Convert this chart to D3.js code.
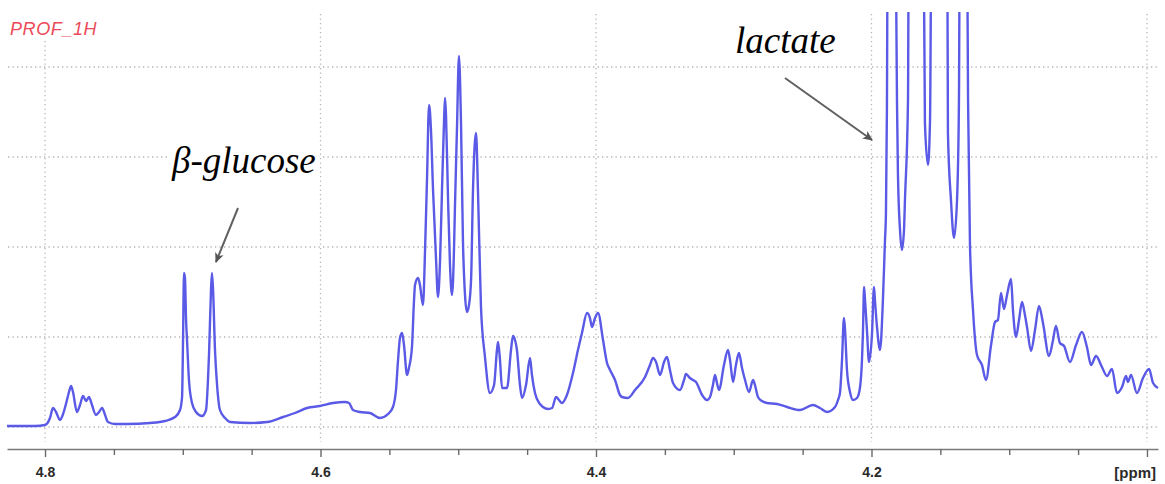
<!DOCTYPE html>
<html>
<head>
<meta charset="utf-8">
<script src="https://cdn.jsdelivr.net/npm/d3@7"></script>
<style>
  html, body { margin: 0; padding: 0; background: #fff; }
  svg { display: block; }
</style>
</head>
<body>
<svg id="chart" width="1165" height="484"></svg>
<script>
// 1H NMR profile, 4.83 – 3.99 ppm (chemical shift, intensity in arbitrary units)
const shiftPpm = [
  4.8276, 4.8181, 4.8073, 4.8000, 4.7964, 4.7942, 4.7920, 4.7891, 4.7869, 4.7848,
  4.7826, 4.7811, 4.7797, 4.7768, 4.7746, 4.7724, 4.7702, 4.7681, 4.7659, 4.7630,
  4.7608, 4.7586, 4.7564, 4.7543, 4.7492, 4.7405, 4.7238, 4.7129, 4.7056, 4.7020,
  4.7005, 4.6998, 4.6991, 4.6984, 4.6976, 4.6969, 4.6955, 4.6933, 4.6904, 4.6860,
  4.6831, 4.6817, 4.6809, 4.6795, 4.6788, 4.6780, 4.6766, 4.6751, 4.6730, 4.6693,
  4.6657, 4.6512, 4.6388, 4.6272, 4.6185, 4.6098, 4.6004, 4.5909, 4.5822, 4.5793,
  4.5764, 4.5713, 4.5641, 4.5568, 4.5510, 4.5474, 4.5452, 4.5437, 4.5423, 4.5408,
  4.5394, 4.5372, 4.5358, 4.5336, 4.5321, 4.5314, 4.5292, 4.5278, 4.5256, 4.5241,
  4.5227, 4.5212, 4.5198, 4.5183, 4.5162, 4.5147, 4.5132, 4.5118, 4.5103, 4.5096,
  4.5089, 4.5074, 4.5060, 4.5045, 4.5031, 4.5024, 4.5009, 4.4995, 4.4980, 4.4966,
  4.4951, 4.4937, 4.4922, 4.4907, 4.4893, 4.4871, 4.4857, 4.4835, 4.4806, 4.4770,
  4.4740, 4.4719, 4.4711, 4.4697, 4.4682, 4.4646, 4.4617, 4.4603, 4.4588, 4.4574,
  4.4552, 4.4537, 4.4508, 4.4479, 4.4465, 4.4443, 4.4407, 4.4385, 4.4348, 4.4319,
  4.4290, 4.4269, 4.4247, 4.4211, 4.4167, 4.4131, 4.4102, 4.4065, 4.4044, 4.4029,
  4.4007, 4.3985, 4.3949, 4.3920, 4.3898, 4.3862, 4.3826, 4.3811, 4.3768, 4.3717,
  4.3644, 4.3608, 4.3586, 4.3564, 4.3535, 4.3506, 4.3485, 4.3463, 4.3441, 4.3390,
  4.3361, 4.3347, 4.3318, 4.3296, 4.3274, 4.3230, 4.3194, 4.3172, 4.3151, 4.3136,
  4.3122, 4.3107, 4.3071, 4.3042, 4.3027, 4.3005, 4.2984, 4.2962, 4.2940, 4.2918,
  4.2889, 4.2860, 4.2846, 4.2824, 4.2795, 4.2759, 4.2686, 4.2613, 4.2519, 4.2425,
  4.2374, 4.2323, 4.2265, 4.2243, 4.2229, 4.2214, 4.2200, 4.2192, 4.2178, 4.2156,
  4.2134, 4.2105, 4.2083, 4.2069, 4.2062, 4.2054, 4.2047, 4.2033, 4.2018, 4.1996,
  4.1982, 4.1975, 4.1960, 4.1938, 4.1917, 4.1902, 4.1895, 4.1888, 4.1880, 4.1859,
  4.1830, 4.1815, 4.1808, 4.1793, 4.1779, 4.1764, 4.1757, 4.1735, 4.1728, 4.1684,
  4.1626, 4.1612, 4.1590, 4.1575, 4.1561, 4.1510, 4.1452, 4.1445, 4.1423, 4.1401,
  4.1379, 4.1365, 4.1358, 4.1329, 4.1307, 4.1299, 4.1285, 4.1263, 4.1234, 4.1198,
  4.1169, 4.1132, 4.1103, 4.1082, 4.1060, 4.1038, 4.1016, 4.0987, 4.0973, 4.0951,
  4.0929, 4.0907, 4.0886, 4.0871, 4.0842, 4.0813, 4.0784, 4.0755, 4.0711, 4.0682,
  4.0661, 4.0632, 4.0602, 4.0559, 4.0515, 4.0472, 4.0436, 4.0406, 4.0370, 4.0327,
  4.0290, 4.0254, 4.0218, 4.0181, 4.0152, 4.0138, 4.0116, 4.0073, 4.0029, 3.9985,
  3.9956, 3.9920
];

const intensity = [
    1,   1,   1,   2,   9,  19,  15,   7,  13,  23,
   35,  41,  35,  15,  22,  31,  26,  30,  22,  12,
   15,  19,  12,   5,   3,   3,   4,   6,  10,  17,
   30,  87, 154, 149, 107,  87,  47,  24,  15,  11,
   17,  47,  74, 137, 154, 137,  77,  42,  17,   9,
    5,   4,   5,  10,  14,  19,  21,  24,  25,  24,
   17,  15,  14,   9,  13,  20,  37,  67,  89,  94,
   82,  52,  59,  80, 127, 142, 149, 142, 122, 177,
  247, 322, 297, 237, 170, 130, 167, 237, 307, 329,
  312, 227, 162, 132, 177, 220, 300, 371, 304, 187,
  132, 115, 122, 147, 237, 294, 237, 120,  70,  34,
   42,  77,  85,  67,  39,  39,  77,  91,  87,  77,
   42,  29,  42,  69,  52,  34,  23,  20,  18,  19,
   30,  27,  24,  32,  54,  77,  94, 114, 109, 100,
  109, 114,  87,  64,  57,  47,  32,  30,  29,  37,
   50,  62,  69,  65,  52,  65,  70,  57,  44,  37,
   47,  53,  49,  47,  45,  32,  27,  30,  42,  52,
   44,  37,  62,  77,  67,  45,  62,  74,  59,  47,
   35,  47,  42,  30,  26,  24,  23,  20,  17,  22,
   19,  15,  20,  27,  34,  67, 109,  97,  57,  35,
   27,  29,  40,  67,  94, 140, 127,  97,  65,  94,
  140, 127, 100,  77, 127, 187, 214, 317, 585, 480,
  560, 327, 254, 197, 177, 197, 227, 327, 550, 470,
  570, 304, 262, 307, 590, 480, 570, 294, 227, 189,
  227, 327, 540, 470, 500, 327, 182, 117,  72,  62,
   47,  82, 105, 107, 134, 118, 132, 148, 117,  90,
  107, 125, 112, 100,  76,  97, 121, 104,  71,  87,
  101,  84,  81,  65,  82,  95,  80,  62,  71,  60,
   51,  58,  34,  40,  51,  45,  52,  34,  49,  58,
   44,  39
];

// Axis ticks every 0.05 ppm; labelled every 0.2 ppm
const tickPpm = [4.80, 4.75, 4.70, 4.65, 4.60, 4.55, 4.50, 4.45, 4.40,
                 4.35, 4.30, 4.25, 4.20, 4.15, 4.10, 4.05, 4.00];
const labelPpm = [4.8, 4.6, 4.4, 4.2];
const gridPpm = [4.8, 4.6, 4.4, 4.2, 4.0];
const gridLevels = [0, 90, 180, 270, 360];

// Annotations: label position and arrow (tail -> tip) in data units
const annotations = [
  { text: "β-glucose", labelPpm: 4.7078, labelInt: 254,
    tailPpm: 4.6599, tailInt: 219, tipPpm: 4.6759, tipInt: 165 },
  { text: "lactate", labelPpm: 4.2991, labelInt: 374,
    tailPpm: 4.2628, tailInt: 349, tipPpm: 4.1996, tipInt: 287 }
];

const svg = d3.select("#chart");

const x = d3.scaleLinear().domain([4.8276, 3.9920]).range([7, 1158]);
const y = d3.scaleLinear().domain([0, 415]).range([427, 12]);
const axisY = 449;

const defs = svg.append("defs");
defs.append("clipPath").attr("id", "plot-clip")
  .append("rect").attr("x", 0).attr("y", y(415)).attr("width", 1165).attr("height", axisY - y(415));

defs.append("marker")
  .attr("id", "arrowhead")
  .attr("viewBox", "0 0 10 10")
  .attr("refX", 9).attr("refY", 5)
  .attr("markerWidth", 5).attr("markerHeight", 5)
  .attr("markerUnits", "strokeWidth")
  .attr("orient", "auto")
  .append("path")
  .attr("d", "M0,0.5 L10,5 L0,9.5 L2.5,5 Z")
  .attr("fill", "#555");

// Dotted grid
const grid = svg.append("g").attr("stroke", "#b4b4b4").attr("stroke-width", 1.3)
  .attr("stroke-dasharray", "1.3,3.2");
grid.selectAll("line.h").data(gridLevels).join("line")
  .attr("class", "h")
  .attr("x1", 8).attr("x2", 1160)
  .attr("y1", d => y(d)).attr("y2", d => y(d));
grid.selectAll("line.v").data(gridPpm).join("line")
  .attr("class", "v")
  .attr("x1", d => x(d)).attr("x2", d => x(d))
  .attr("y1", y(413)).attr("y2", 442);

// Spectrum trace
const points = shiftPpm.map((p, i) => [p, intensity[i]]);
const line = d3.line()
  .x(d => x(d[0]))
  .y(d => y(d[1]))
  .curve(d3.curveMonotoneX);

svg.append("g").attr("clip-path", "url(#plot-clip)")
  .append("path")
  .datum(points)
  .attr("d", line)
  .attr("fill", "none")
  .attr("stroke", "#5a5ae6")
  .attr("stroke-width", 2.4)
  .attr("stroke-linejoin", "round");

// Bottom ppm axis
const axis = d3.axisBottom(x)
  .tickValues(tickPpm)
  .tickSizeInner(6)
  .tickSizeOuter(0)
  .tickPadding(12)
  .tickFormat(d => labelPpm.some(v => Math.abs(v - d) < 1e-6) ? d3.format(".1f")(d) : "");

const gAxis = svg.append("g")
  .attr("transform", `translate(0,${axisY})`)
  .call(axis);

gAxis.select(".domain").attr("stroke", "#7a7a7a").attr("stroke-width", 1.6);
gAxis.selectAll(".tick line")
  .attr("stroke", "#6a6a6a").attr("stroke-width", 1.4)
  .attr("y2", d => (labelPpm.concat([4.0]).some(v => Math.abs(v - d) < 1e-6) ? 8 : 6));
gAxis.selectAll(".tick text")
  .attr("fill", "#2a2a2a")
  .attr("font-family", "Liberation Sans, Arial, sans-serif")
  .attr("font-weight", "bold")
  .attr("font-size", 14);

svg.append("text")
  .attr("x", 1156).attr("y", 478)
  .attr("text-anchor", "end")
  .attr("fill", "#2a2a2a")
  .attr("font-family", "Liberation Sans, Arial, sans-serif")
  .attr("font-weight", "bold")
  .attr("font-size", 15)
  .text("[ppm]");

// Title block
svg.append("rect").attr("x", 0).attr("y", 0).attr("width", 106).attr("height", 40).attr("fill", "#fff");
svg.append("text")
  .attr("x", 10).attr("y", 35)
  .attr("fill", "#ec4a5a")
  .attr("font-family", "Liberation Sans, Arial, sans-serif")
  .attr("font-style", "italic")
  .attr("font-size", 18)
  .attr("letter-spacing", 0.6)
  .text("PROF_1H");

// Annotation labels and arrows
const ann = svg.append("g");
annotations.forEach(a => {
  const t = ann.append("text")
    .attr("x", x(a.labelPpm)).attr("y", y(a.labelInt))
    .attr("font-family", "Liberation Serif, Times New Roman, serif")
    .attr("font-style", "italic")
    .attr("font-size", 37)
    .attr("fill", "#000")
    .text(a.text);
  const bb = t.node().getBBox();
  ann.insert("rect", () => t.node())
    .attr("x", bb.x - 4).attr("y", bb.y + 2)
    .attr("width", bb.width + 8).attr("height", bb.height - 2)
    .attr("fill", "#fff");
  ann.append("line")
    .attr("x1", x(a.tailPpm)).attr("y1", y(a.tailInt))
    .attr("x2", x(a.tipPpm)).attr("y2", y(a.tipInt))
    .attr("stroke", "#606060").attr("stroke-width", 2)
    .attr("marker-end", "url(#arrowhead)");
});
</script>
</body>
</html>
